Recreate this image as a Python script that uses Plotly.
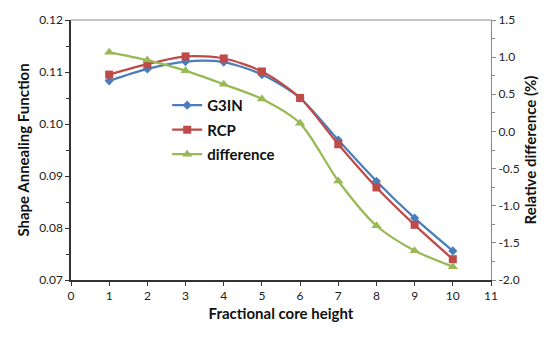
import plotly.graph_objects as go

x = [1, 2, 3, 4, 5, 6, 7, 8, 9, 10]
g3in = [0.1083, 0.1106, 0.1120, 0.1119, 0.1095, 0.1050, 0.0969, 0.0890, 0.0819, 0.0756]
rcp = [0.1095, 0.1115, 0.1130, 0.1126, 0.1101, 0.1050, 0.0961, 0.0878, 0.0806, 0.0740]
diff = [1.065, 0.96, 0.818, 0.634, 0.437, 0.109, -0.667, -1.27, -1.605, -1.82]
y2_ticks = [1.5, 1.0, 0.5, 0.0, -0.5, -1.0, -1.5, -2.0]
y2_labels = ["1.5", "1.0", "0.5", "0.0", "-0.5", "-1.0", "-1.5", "-2.0"]

font = "Lato, Carlito, Calibri, sans-serif"

fig = go.Figure()
fig.add_trace(go.Scatter(x=x, y=g3in, name="<b>G3IN</b>", mode="lines+markers", legendgroup="a",
                         line=dict(color="#4A7EBB", width=2.25, shape="spline", smoothing=0.8),
                         marker=dict(symbol="diamond", size=7, color="#4A7EBB")))
fig.add_trace(go.Scatter(x=x, y=rcp, name="<b>RCP</b>", mode="lines+markers", legendgroup="b",
                         line=dict(color="#BE4B48", width=2.25, shape="spline", smoothing=0.8),
                         marker=dict(symbol="square", size=8, color="#BE4B48")))
fig.add_trace(go.Scatter(x=x, y=diff, name="<b>difference</b>", mode="lines+markers", yaxis="y2",
                         legendgroup="c",
                         line=dict(color="#98B954", width=2.25, shape="spline", smoothing=0.8),
                         marker=dict(symbol="triangle-up", size=9, color="#98B954")))

fig.update_layout(
    width=558, height=338,
    margin=dict(l=63, r=75, t=12, b=66, autoexpand=False),
    paper_bgcolor="white", plot_bgcolor="white",
    font=dict(family=font, size=12, color="#222"),
    showlegend=True,
    legend=dict(x=0.229, y=0.735, xanchor="left", yanchor="top",
                bgcolor="rgba(0,0,0,0)", font=dict(size=15, color="#111", family=font),
                tracegroupgap=2, itemwidth=30),
    xaxis=dict(range=[0, 11], dtick=1, tick0=0, showgrid=False, zeroline=False, automargin=False,
               showline=True, linecolor="#333", linewidth=1.5,
               ticks="outside", ticklen=4, tickcolor="#333",
               title=dict(text="<b>Fractional core height</b>", font=dict(size=15, color="#111"), standoff=6)),
    yaxis=dict(range=[0.07, 0.12], dtick=0.01, tickformat=".2f", showgrid=False, zeroline=False,
               automargin=False,
               showline=True, linecolor="#333", linewidth=1.5,
               ticks="outside", ticklen=4, tickcolor="#333",
               minor=dict(dtick=0.005, ticks="outside", ticklen=3, tickcolor="#333"),
               title=dict(text="<b>Shape Annealing Function</b>", font=dict(size=15, color="#111"), standoff=6)),
    yaxis2=dict(range=[-2.0, 1.5], tickvals=y2_ticks, ticktext=y2_labels, overlaying="y", side="right",
                automargin=False,
                showgrid=False, zeroline=False, showline=True, linecolor="#888", linewidth=1,
                ticks="outside", ticklen=4, tickcolor="#888",
                minor=dict(dtick=0.25, ticks="outside", ticklen=3, tickcolor="#888"),
                title=dict(text="<b>Relative difference (%)</b>", font=dict(size=15, color="#111"), standoff=6)),
)

# top frame line of plot area
fig.add_shape(type="line", xref="paper", yref="paper", x0=0, x1=1, y0=1, y1=1,
              line=dict(color="#888", width=1))

fig.write_html("out.html")
